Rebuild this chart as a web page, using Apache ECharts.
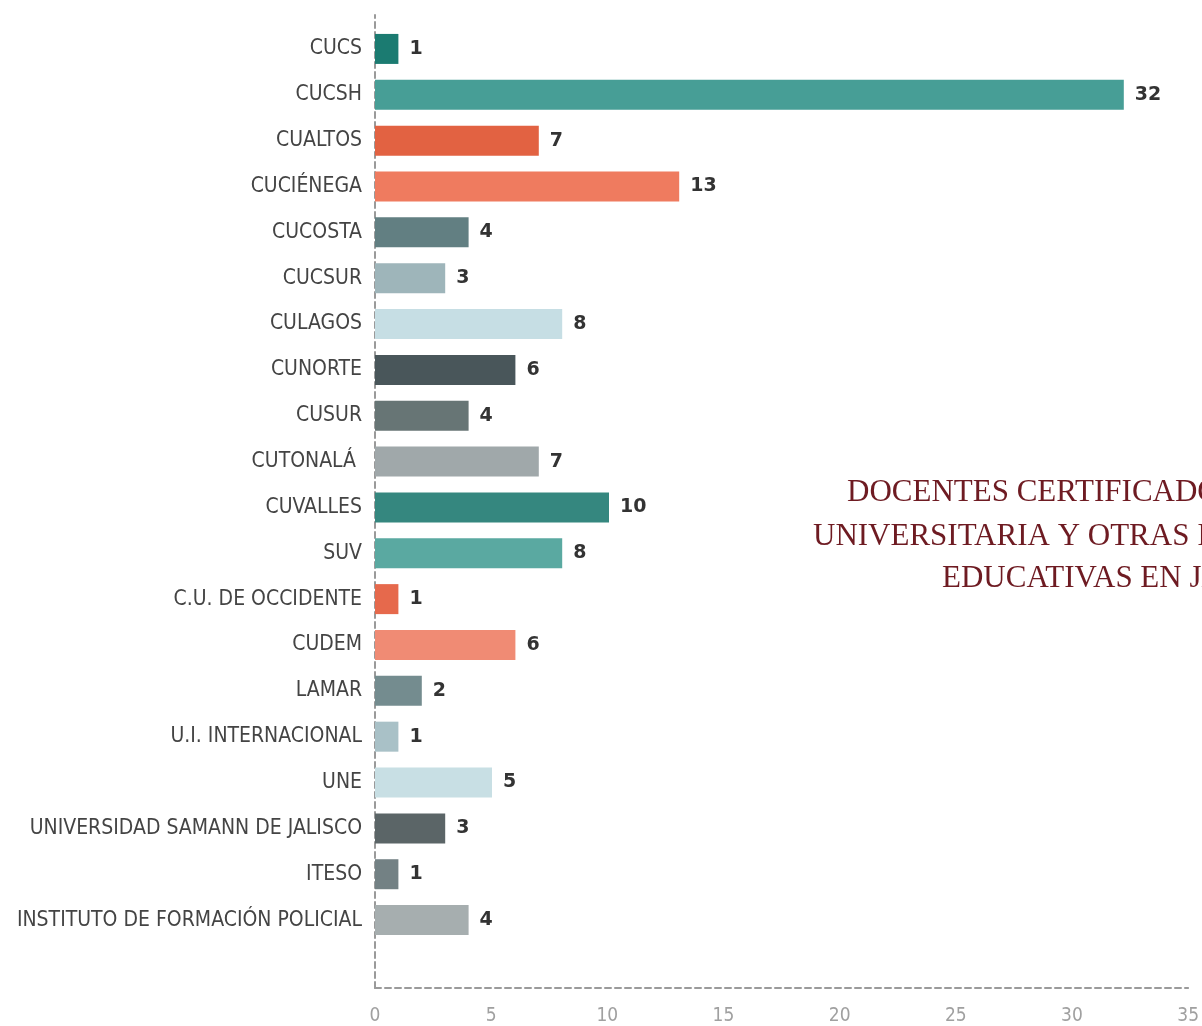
<!DOCTYPE html>
<html lang="es">
<head>
    <meta charset="UTF-8">
    <title>Docentes certificados</title>
    <script src="https://cdn.jsdelivr.net/npm/echarts@6/dist/echarts.min.js"></script>
    <style>
        html, body { margin: 0; padding: 0; background: #fff; }
        #chart { width: 1202px; height: 1026px; }
    </style>
</head>
<body>
<div id="chart"></div>
<script>
    // data
    const categories = [
        'CUCS', 'CUCSH', 'CUALTOS', 'CUCIÉNEGA', 'CUCOSTA', 'CUCSUR', 'CULAGOS',
        'CUNORTE', 'CUSUR', 'CUTONALÁ ', 'CUVALLES', 'SUV', 'C.U. DE OCCIDENTE',
        'CUDEM', 'LAMAR', 'U.I. INTERNACIONAL', 'UNE',
        'UNIVERSIDAD SAMANN DE JALISCO', 'ITESO', 'INSTITUTO DE FORMACIÓN POLICIAL'
    ];
    const values = [1, 32, 7, 13, 4, 3, 8, 6, 4, 7, 10, 8, 1, 6, 2, 1, 5, 3, 1, 4];
    const barColors = [
        '#1b7b71', '#479e96', '#e26242', '#ef7b5f', '#627f82', '#9eb5ba', '#c6dee4',
        '#49565a', '#677575', '#a0a8aa', '#35877f', '#5aa9a1', '#e6694c',
        '#f08b74', '#748c8f', '#a9c1c7', '#c8dfe4', '#5b6567', '#738184', '#a6aeaf'
    ];
    const xTicks = [0, 5, 10, 15, 20, 25, 30, 35];
    const titleLines = [
        'DOCENTES CERTIFICADOS POR LA RED',
        'UNIVERSITARIA Y OTRAS INSTITUCIONES',
        'EDUCATIVAS EN JALISCO'
    ];

    const labelFont = '"Liberation Sans Narrow", "DejaVu Sans Condensed", sans-serif';
    const chart = echarts.init(document.getElementById('chart'));

    const titleStyle = {
        color: '#6e1b22',
        fontFamily: '"Liberation Serif", "DejaVu Serif", serif',
        fontSize: 31,
        fontWeight: 'normal'
    };

    chart.setOption({
        animation: false,
        backgroundColor: '#ffffff',
        title: [
            { text: titleLines[0], left: 842, top: 472, textStyle: titleStyle },
            { text: titleLines[1], left: 808, top: 516, textStyle: titleStyle },
            { text: titleLines[2], left: 937, top: 558, textStyle: titleStyle }
        ],
        grid: [
            // bars
            { left: 375, width: 819, top: 26, height: 917 },
            // frame with the dashed axes
            { left: 375, width: 819, top: 15, bottom: 36 }
        ],
        xAxis: [
            {
                gridIndex: 0, type: 'value', min: 0, max: 35, interval: 5,
                show: false
            },
            {
                gridIndex: 1, type: 'value', min: xTicks[0], max: xTicks[xTicks.length - 1], interval: 5,
                axisLine: { show: true, lineStyle: { color: '#9a9a9a', type: [6, 4], width: 2 } },
                axisTick: { show: false },
                splitLine: { show: false },
                axisLabel: {
                    color: '#a0a0a0', fontSize: 19, margin: 19,
                    fontFamily: labelFont
                }
            }
        ],
        yAxis: [
            {
                gridIndex: 0, type: 'category', data: categories, inverse: true,
                axisLine: { show: false },
                axisTick: { show: false },
                axisLabel: {
                    color: '#444444', fontSize: 21, margin: 13,
                    fontFamily: labelFont
                }
            },
            {
                gridIndex: 1, type: 'value', min: 0, max: 1,
                axisLine: { show: true, lineStyle: { color: '#9a9a9a', type: [6, 4], width: 2 } },
                axisTick: { show: false },
                axisLabel: { show: false },
                splitLine: { show: false }
            }
        ],
        series: [{
            type: 'bar',
            xAxisIndex: 0,
            yAxisIndex: 0,
            data: values.map((v, i) => ({ value: v, itemStyle: { color: barColors[i] } })),
            barWidth: 30,
            label: {
                show: true,
                position: 'right',
                distance: 11,
                color: '#333333',
                fontSize: 19,
                fontWeight: 'bold',
                fontFamily: '"DejaVu Sans", sans-serif'
            }
        }]
    });
</script>
</body>
</html>
